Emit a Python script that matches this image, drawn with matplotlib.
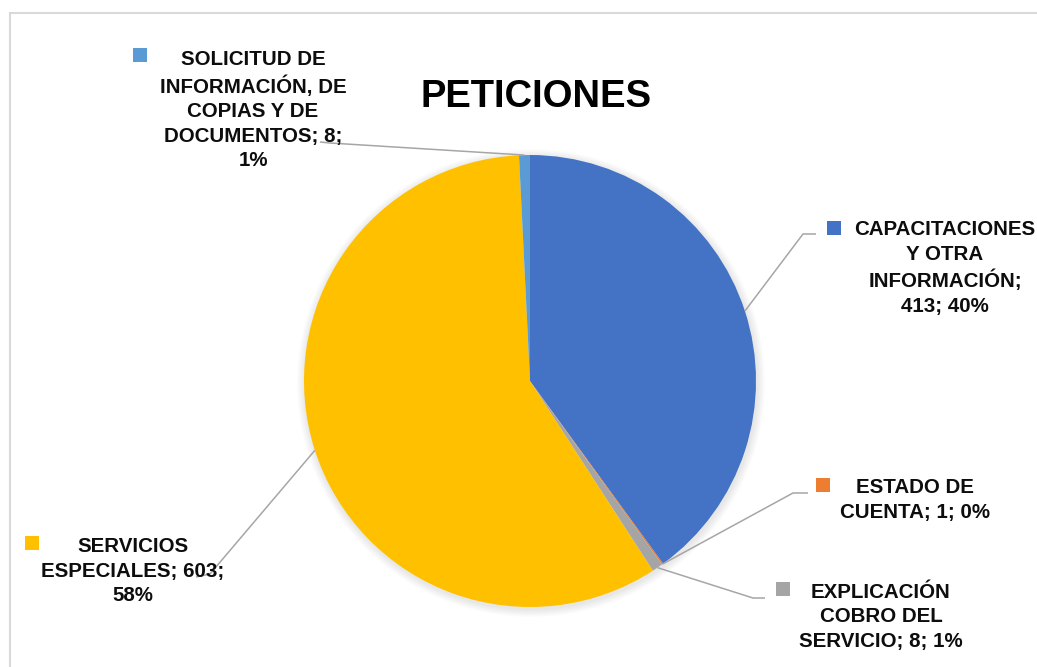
import numpy as np
import matplotlib.pyplot as plt
from matplotlib.patches import Rectangle, Circle

plt.rcParams["font.family"] = ["Liberation Sans", "DejaVu Sans"]

# data
categories = ["CAPACITACIONES Y OTRA INFORMACIÓN", "ESTADO DE CUENTA",
              "EXPLICACIÓN COBRO DEL SERVICIO", "SERVICIOS ESPECIALES",
              "SOLICITUD DE INFORMACIÓN, DE COPIAS Y DE DOCUMENTOS"]
values = [413, 1, 8, 603, 8]
colors = ["#4472C4", "#ED7D31", "#A5A5A5", "#FFC000", "#5B9BD5"]
label_templates = [
    "CAPACITACIONES\nY OTRA\nINFORMACIÓN;\n{v}; {p}%",
    "ESTADO DE\nCUENTA; {v}; {p}%",
    "EXPLICACIÓN\nCOBRO DEL\nSERVICIO; {v}; {p}%",
    "SERVICIOS\nESPECIALES; {v};\n{p}%",
    "SOLICITUD DE\nINFORMACIÓN, DE\nCOPIAS Y DE\nDOCUMENTOS; {v};\n{p}%",
]
title = "PETICIONES"

W, H = 1037, 667
# layout (pixels, y measured from top)
cx, cy, R = 530, 381, 226
label_xy = [(945, 268), (915, 500), (881, 617), (133, 571), (253, 110)]
marker_xy = [(834, 228), (823, 485), (783, 589), (32, 543), (140, 55)]
elbow = [((803, 234), (816, 234)), ((793, 493), (808, 493)),
         ((753, 598), (765, 598)), ((210, 574), (196, 577)),
         ((330, 143), (320, 142))]

fig = plt.figure(figsize=(W / 100, H / 100), dpi=100, facecolor="w")
ax = fig.add_axes([0, 0, 1, 1])


def py(y):
    return H - y


# chart frame
ax.add_patch(Rectangle((10, py(13) - 700), 1100, 700, fill=False,
                       edgecolor="#D9D9D9", lw=1.5, zorder=1))

# soft shadow behind pie
for k in range(8):
    ax.add_patch(Circle((cx + 1, py(cy) - 2), R + 8 - k, color="k",
                        alpha=0.012, lw=0, zorder=2))

wedges, _ = ax.pie(values, colors=colors, startangle=90, counterclock=False,
                   center=(cx, py(cy)), radius=R,
                   wedgeprops=dict(linewidth=0.3, edgecolor="none"),
                   frame=True)
for w in wedges:
    w.set_zorder(3)
ax.set_xlim(0, W)
ax.set_ylim(0, H)
ax.set_aspect("auto")
ax.axis("off")

total = sum(values)
for i, w in enumerate(wedges):
    mid = np.deg2rad((w.theta1 + w.theta2) / 2)
    ex, ey = cx + R * np.cos(mid), py(cy) + R * np.sin(mid)
    (x1, y1), (x2, y2) = elbow[i]
    ax.plot([ex, x1, x2], [ey, py(y1), py(y2)], color="#A6A6A6", lw=1.1,
            zorder=4, solid_capstyle="butt")
    pct = round(values[i] / total * 100)
    txt = label_templates[i].format(v=values[i], p=pct)
    lx, ly = label_xy[i]
    ax.text(lx, py(ly), txt, ha="center", va="center", fontsize=14.8,
            fontweight="bold", linespacing=1.36, color="#0D0D0D", zorder=6)
    mx, my = marker_xy[i]
    ax.scatter(mx, py(my), marker="s", s=95, color=colors[i], lw=0, zorder=6)

ax.text(536, py(97), title, ha="center", va="center", fontsize=27.5,
        fontweight="bold", color="#000000", zorder=6)

fig.savefig("out.png", dpi=100, facecolor="w")
